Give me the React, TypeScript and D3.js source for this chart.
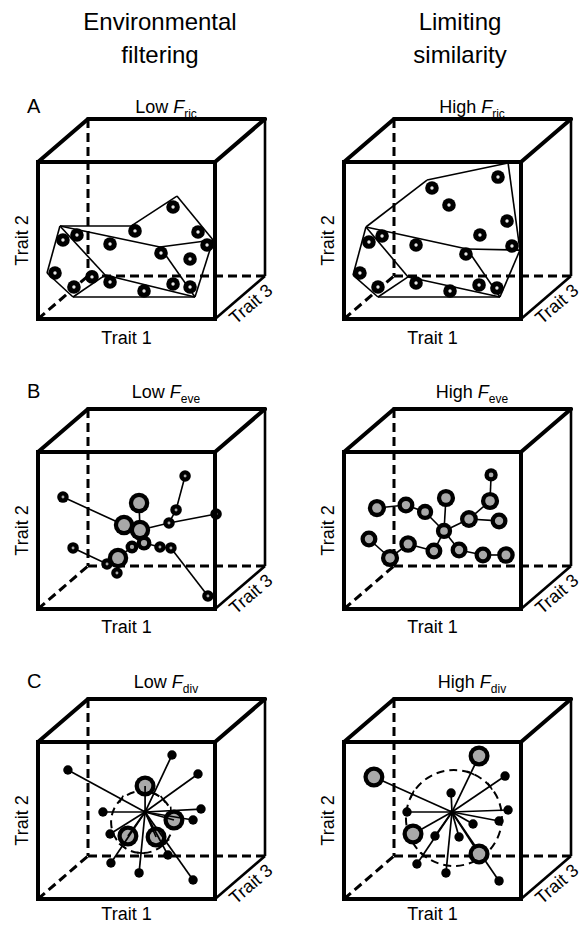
import React from "react";
import * as d3 from "d3";

// ---------- text ----------
const columnTitles = [["Environmental", "filtering"], ["Limiting", "similarity"]];
const rowLetters = ["A", "B", "C"];
const levelNames = ["Low", "High"];
const indexNames = ["ric", "eve", "div"];
const traitLabels = ["Trait 1", "Trait 2", "Trait 3"];

// ---------- data (trait 1, trait 2 in % of the projected axis) ----------
// A: functional richness
const ricLowPoints = [
  [76.3, 71.3], [54.8, 56.1], [90.4, 55.4], [22.0, 53.5], [14.1, 50.3], [40.7, 47.8],
  [95.5, 47.1], [69.5, 42.0], [85.9, 38.2], [9.6, 29.3], [30.5, 26.8], [40.7, 23.6],
  [76.3, 22.3], [20.3, 20.4], [85.9, 20.4], [59.9, 17.8],
];
const ricLowHull = [
  [12.4, 59.2], [52.5, 59.2], [78.5, 78.3], [98.9, 50.3], [88.7, 14.0],
  [19.8, 14.0], [5.1, 29.3], [37.9, 28.0], [68.9, 45.9],
];
const ricHighPoints = [
  [87.0, 90.4], [49.7, 83.4], [59.3, 72.6], [92.1, 62.4], [76.8, 53.5], [21.5, 52.9],
  [14.1, 49.0], [40.7, 47.1], [94.9, 46.5], [68.9, 41.4], [9.0, 29.3], [40.7, 22.9],
  [19.2, 20.4], [59.9, 17.8], [76.3, 21.7], [86.4, 19.7],
];
const ricHighHull = [
  [12.4, 58.6], [46.9, 88.5], [92.7, 99.4], [99.4, 43.9], [88.1, 14.0],
  [19.2, 14.0], [5.1, 28.0], [36.2, 26.8], [69.5, 44.6],
];
const hullEdges = [
  [0, 1], [1, 2], [2, 3], [3, 4], [4, 5], [5, 6], [6, 0],
  [0, 7], [5, 7], [7, 4], [0, 8], [8, 3], [8, 4],
];

// B: functional evenness (trait 1, trait 2, abundance)
const eveLowPoints = [
  [83.1, 84.7, 1.2], [14.1, 71.3, 1.2], [57.1, 67.5, 3.8], [78.0, 63.1, 1.2],
  [100.6, 60.5, 1.2], [48.6, 53.5, 3.8], [57.6, 50.3, 3.8], [74.0, 54.8, 1.2],
  [59.9, 42.0, 2.0], [53.1, 39.5, 1.5], [68.9, 39.5, 1.2], [75.1, 38.9, 1.2],
  [19.8, 38.9, 1.2], [45.2, 32.5, 3.8], [39.0, 28.7, 1.2], [44.6, 22.9, 1.2],
  [96.0, 8.3, 1.2],
];
const eveLowEdges = [
  [0, 3], [3, 7], [7, 4], [7, 6], [2, 6], [1, 5], [5, 6], [6, 8], [8, 9],
  [9, 13], [13, 14], [14, 12], [13, 15], [8, 10], [10, 11], [11, 16],
];
const eveHighPoints = [
  [83.1, 85.4, 1.6], [82.5, 68.8, 3.0], [57.6, 70.7, 3.0], [18.6, 64.3, 3.0],
  [35.0, 66.2, 2.6], [45.8, 61.8, 2.4], [70.6, 57.3, 2.9], [87.6, 56.1, 2.6],
  [56.5, 49.7, 2.4], [14.1, 44.6, 2.6], [36.2, 41.4, 2.8], [50.8, 36.9, 2.6],
  [65.0, 37.6, 2.6], [78.5, 34.4, 2.6], [91.5, 34.4, 2.8], [26.0, 32.5, 3.0],
];
const eveHighEdges = [
  [0, 1], [1, 6], [6, 7], [6, 8], [2, 8], [3, 4], [4, 5], [5, 8],
  [8, 12], [12, 13], [13, 14], [8, 11], [11, 10], [10, 15], [15, 9],
];

// C: functional divergence (trait 1, trait 2, abundance)
const divLowPoints = [
  [75.7, 91.7, 0.8], [16.9, 82.2, 0.8], [90.4, 79.6, 0.8], [60.5, 72.0, 4.0],
  [36.7, 55.4, 0.8], [92.1, 57.3, 0.8], [76.8, 50.3, 4.0], [87.6, 50.3, 0.8],
  [40.7, 41.4, 0.8], [50.8, 40.1, 4.0], [66.7, 39.5, 4.0], [73.4, 28.0, 0.8],
  [41.2, 22.9, 0.8], [57.1, 16.6, 0.8], [87.6, 12.1, 0.8],
];
const divLowCentre = [60.5, 55.4];
const divLowMeanDistance = [58.8, 49.0, 17.5];
const divHighPoints = [
  [76.3, 91.1, 4.0], [16.9, 77.7, 4.0], [91.0, 78.3, 0.8], [60.5, 67.5, 0.8],
  [35.6, 55.4, 0.8], [92.7, 56.7, 0.8], [87.6, 49.7, 0.8], [72.9, 47.8, 0.8],
  [39.0, 41.4, 4.0], [51.4, 40.1, 0.8], [65.0, 39.5, 0.8], [76.3, 28.7, 4.0],
  [41.2, 22.3, 0.8], [57.6, 16.6, 0.8], [87.6, 11.5, 0.8],
];
const divHighCentre = [61.0, 55.4];
const divHighMeanDistance = [62.1, 51.6, 27.1];

// ---------- layout ----------
const WIDTH = 584;
const HEIGHT = 925;
const W = 177;
const H = 157;
const DX = 50;
const DY = -43;
const colX = [38, 344];
const rowY = [162, 452, 742];
const rowTitleY = [113, 398, 688];
const trait1Offset = [25, 24, 21];
const FONT = "'Liberation Sans', Arial, Helvetica, sans-serif";
const GREY = "#a9a9a9";

const rScale = d3.scaleSqrt().domain([0, 4]).range([0, 10.5]);

function Cube({ x0, y0, part }: { x0: number; y0: number; part: "back" | "front" }) {
  const bx = x0 + DX;
  const by = y0 + DY;
  if (part === "back") {
    const dash = { stroke: "#000", strokeWidth: 3, strokeDasharray: "9 5", fill: "none" };
    return (
      <g>
        <line x1={bx} y1={by} x2={bx} y2={by + H} {...dash} />
        <line x1={bx} y1={by + H} x2={bx + W} y2={by + H} {...dash} />
        <line x1={x0} y1={y0 + H} x2={bx} y2={by + H} {...dash} />
      </g>
    );
  }
  const thick = { stroke: "#000", strokeWidth: 4, fill: "none", strokeLinecap: "round" as const };
  const thin = { stroke: "#000", strokeWidth: 2.6, fill: "none" };
  return (
    <g>
      <line x1={bx + W} y1={by} x2={bx + W} y2={by + H} {...thin} />
      <line x1={x0 + W} y1={y0 + H} x2={bx + W} y2={by + H} {...thin} />
      <line x1={x0} y1={y0} x2={bx} y2={by} {...thick} />
      <line x1={bx} y1={by} x2={bx + W} y2={by} {...thick} />
      <line x1={x0 + W} y1={y0} x2={bx + W} y2={by} {...thick} />
      <rect x={x0} y={y0} width={W} height={H} {...thick} strokeLinejoin="miter" />
    </g>
  );
}

function Labels({ x0, y0, row }: { x0: number; y0: number; row: number }) {
  const mx = x0 + W + DX / 2;
  const my = y0 + H + DY / 2;
  const len = Math.hypot(DX, DY);
  const tx = DX / len;
  const ty = DY / len;
  const nx = -ty;
  const ny = tx;
  const cx = mx + nx * 12 + tx * 4;
  const cy = my + ny * 12 + ty * 4;
  const ang = (Math.atan2(DY, DX) * 180) / Math.PI;
  return (
    <g fontFamily={FONT} fontSize={18} fill="#000">
      <text x={x0 + W / 2} y={y0 + H + trait1Offset[row]} textAnchor="middle">{traitLabels[0]}</text>
      <text
        transform={`translate(${x0 - 16},${y0 + H / 2}) rotate(-90)`}
        textAnchor="middle"
        dominantBaseline="central"
      >
        {traitLabels[1]}
      </text>
      <text
        transform={`translate(${cx},${cy}) rotate(${ang})`}
        textAnchor="middle"
        dominantBaseline="central"
      >
        {traitLabels[2]}
      </text>
    </g>
  );
}

function RichnessContent({ x, y, pts, hull }: any) {
  return (
    <g>
      {hullEdges.map(([a, b], i) => (
        <line key={i} x1={x(hull[a][0])} y1={y(hull[a][1])} x2={x(hull[b][0])} y2={y(hull[b][1])}
          stroke="#000" strokeWidth={1.6} />
      ))}
      {pts.map((p: number[], i: number) => (
        <g key={i}>
          <circle cx={x(p[0])} cy={y(p[1])} r={6.8} fill="#000" />
          <circle cx={x(p[0])} cy={y(p[1])} r={1.7} fill="#e6e6e6" />
        </g>
      ))}
    </g>
  );
}

function Dot({ cx, cy, a }: { cx: number; cy: number; a: number }) {
  const r = rScale(a);
  const inner = r - 4.3;
  return (
    <g>
      <circle cx={cx} cy={cy} r={r} fill="#000" />
      {inner > 0.8 && <circle cx={cx} cy={cy} r={inner} fill={GREY} />}
    </g>
  );
}

function EvennessContent({ x, y, pts, edges }: any) {
  return (
    <g>
      {edges.map(([a, b]: number[], i: number) => (
        <line key={i} x1={x(pts[a][0])} y1={y(pts[a][1])} x2={x(pts[b][0])} y2={y(pts[b][1])}
          stroke="#000" strokeWidth={1.6} />
      ))}
      {pts.map((p: number[], i: number) => (
        <Dot key={i} cx={x(p[0])} cy={y(p[1])} a={p[2]} />
      ))}
    </g>
  );
}

function DivergenceContent({ x, y, pts, centre, circle, linesOnTop }: any) {
  const cx = x(centre[0]);
  const cy = y(centre[1]);
  const ox = x(circle[0]);
  const oy = y(circle[1]);
  const R = x(circle[2]) - x(0);
  const ticks: any[] = [];
  pts.forEach((p: number[], i: number) => {
    const px = x(p[0]);
    const py = y(p[1]);
    const d = Math.hypot(px - ox, py - oy);
    if (d < R + 10) return;
    const ux = px - cx, uy = py - cy;
    const fx = cx - ox, fy = cy - oy;
    const A = ux * ux + uy * uy;
    const B = 2 * (fx * ux + fy * uy);
    const C = fx * fx + fy * fy - R * R;
    const disc = B * B - 4 * A * C;
    if (disc < 0) return;
    const t = (-B + Math.sqrt(disc)) / (2 * A);
    if (t <= 0 || t >= 1) return;
    const ix = cx + ux * t, iy = cy + uy * t;
    const l = Math.sqrt(A);
    const nx = -uy / l, ny = ux / l;
    ticks.push(
      <line key={"t" + i} x1={ix - nx * 4} y1={iy - ny * 4} x2={ix + nx * 4} y2={iy + ny * 4}
        stroke="#000" strokeWidth={1.6} />
    );
  });
  const lines = pts.map((p: number[], i: number) => (
    <line key={i} x1={cx} y1={cy} x2={x(p[0])} y2={y(p[1])} stroke="#000" strokeWidth={1.7} />
  ));
  const dots = pts.map((p: number[], i: number) => <Dot key={i} cx={x(p[0])} cy={y(p[1])} a={p[2]} />);
  return (
    <g>
      <circle cx={ox} cy={oy} r={R} fill="none" stroke="#000" strokeWidth={2} strokeDasharray="8 5" />
      {linesOnTop ? null : lines}
      {ticks}
      {dots}
      {linesOnTop ? lines : null}
      <circle cx={cx} cy={cy} r={2.2} fill="#000" />
    </g>
  );
}

function Panel({ col, row }: { col: number; row: number }) {
  const x0 = colX[col];
  const y0 = rowY[row];
  const x = d3.scaleLinear().domain([0, 100]).range([x0, x0 + W]);
  const y = d3.scaleLinear().domain([0, 100]).range([y0 + H, y0]);
  let content: any = null;
  if (row === 0) {
    content = col === 0
      ? <RichnessContent x={x} y={y} pts={ricLowPoints} hull={ricLowHull} />
      : <RichnessContent x={x} y={y} pts={ricHighPoints} hull={ricHighHull} />;
  } else if (row === 1) {
    content = col === 0
      ? <EvennessContent x={x} y={y} pts={eveLowPoints} edges={eveLowEdges} />
      : <EvennessContent x={x} y={y} pts={eveHighPoints} edges={eveHighEdges} />;
  } else {
    content = col === 0
      ? <DivergenceContent x={x} y={y} pts={divLowPoints} centre={divLowCentre} circle={divLowMeanDistance} linesOnTop={true} />
      : <DivergenceContent x={x} y={y} pts={divHighPoints} centre={divHighCentre} circle={divHighMeanDistance} linesOnTop={false} />;
  }
  return (
    <g>
      <Cube x0={x0} y0={y0} part="back" />
      {content}
      <Cube x0={x0} y0={y0} part="front" />
      <Labels x0={x0} y0={y0} row={row} />
      <text x={x0 + 128} y={rowTitleY[row]} textAnchor="middle" fontFamily={FONT} fontSize={18}>
        <tspan>{levelNames[col]} </tspan>
        <tspan fontStyle="italic">F</tspan>
        <tspan fontSize={12} dy={5}>{indexNames[row]}</tspan>
      </text>
      {col === 0 && (
        <text x={27} y={rowTitleY[row]} fontFamily={FONT} fontSize={20}>{rowLetters[row]}</text>
      )}
    </g>
  );
}

export default function App() {
  return (
    <svg width={WIDTH} height={HEIGHT} style={{ position: "absolute", left: 0, top: 0, background: "#fff" }}>
      <rect x={0} y={0} width={WIDTH} height={HEIGHT} fill="#fff" />
      {columnTitles.map((lines, c) => (
        <text key={c} textAnchor="middle" fontFamily={FONT} fontSize={24}>
          {lines.map((t, i) => (
            <tspan key={i} x={c === 0 ? 160 : 460} y={30 + i * 33}>{t}</tspan>
          ))}
        </text>
      ))}
      {[0, 1, 2].map((r) => [0, 1].map((c) => <Panel key={`${r}-${c}`} col={c} row={r} />))}
    </svg>
  );
}
